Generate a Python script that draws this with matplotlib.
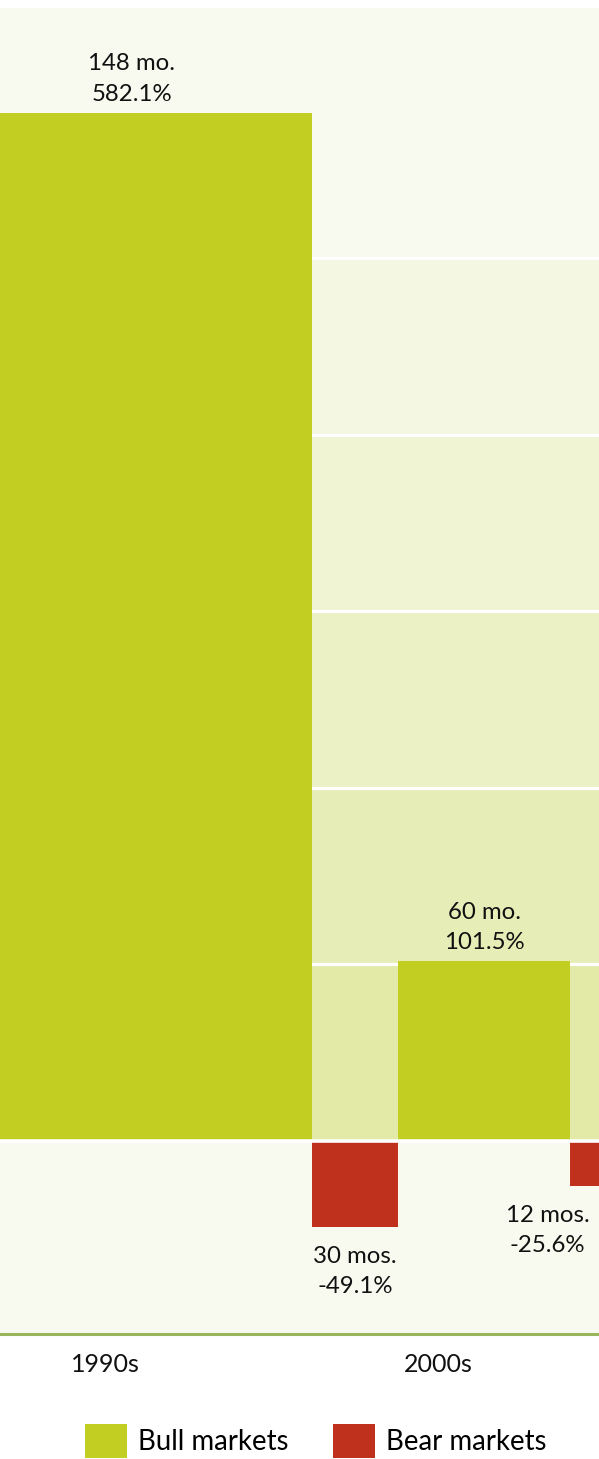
import numpy as np
import matplotlib
matplotlib.use("Agg")
import matplotlib.pyplot as plt
from matplotlib.patches import Patch
from matplotlib.transforms import blended_transform_factory

plt.rcParams["font.family"] = ["Lato", "DejaVu Sans"]

# Market cycles, in order: duration in months and total return in percent
months = [148, 30, 60, 12]
returns = [582.1, -49.1, 101.5, -25.6]
duration_labels = ["148 mo.", "30 mos.", "60 mo.", "12 mos."]
return_labels = ["582.1%", "-49.1%", "101.5%", "-25.6%"]
decades = ["1990s", "2000s"]
decade_pos = [75.8, 192.0]
legend_names = ["Bull markets", "Bear markets"]

BULL = "#C2CE22"
BEAR = "#BF311D"
band_colors = ["#E3EAA8", "#E7EDB7", "#ECF0C5", "#F0F4D3", "#F4F7E1", "#F9FAEF"]
BELOW = "#F9FAEF"

# horizontal nudges of the value labels (months)
label_dx = [11.2, 0.0, 0.0, -13.8]

Y_LO, Y_HI = -109.6, 641.7

fig = plt.figure(figsize=(5.99, 14.59), dpi=100)
ax = fig.add_axes([0, (1459 - 1334) / 1459, 1, (1334 - 8) / 1459])
ax.set_xlim(39.2, 248.1)
ax.set_ylim(Y_LO, Y_HI)
ax.set_facecolor("white")

# shaded bands every 100 %
edges = [0, 100, 200, 300, 400, 500, Y_HI]
for lo, hi, c in zip(edges[:-1], edges[1:], band_colors):
    ax.axhspan(lo, hi, color=c, lw=0, zorder=0)
ax.axhspan(Y_LO, 0, color=BELOW, lw=0, zorder=0)
for g in edges[1:-1]:
    ax.axhline(g, color="white", lw=2.3, zorder=1)

starts = np.concatenate([[0], np.cumsum(months)[:-1]])
colors = [BULL if r > 0 else BEAR for r in returns]
ax.bar(starts, returns, width=months, align="edge", color=colors, lw=0, zorder=2)
ax.axhline(0, color="white", lw=2.6, zorder=3)

for s, m, r, d, v, dx in zip(starts, months, returns, duration_labels, return_labels, label_dx):
    off = 24.5 if r > 0 else -32
    ax.annotate(f"{d}\n{v}", xy=(s + m / 2 + dx, r), xytext=(0, off),
                textcoords="offset points", ha="center", va="center",
                fontsize=17.3, color="#111111", linespacing=1.55, zorder=4)

for sp in ["top", "left", "right"]:
    ax.spines[sp].set_visible(False)
ax.spines["bottom"].set_color("#98B65A")
ax.spines["bottom"].set_linewidth(2.2)
ax.set_yticks([])
ax.set_xticks([])

trans = blended_transform_factory(ax.transData, ax.transAxes)
for name, x in zip(decades, decade_pos):
    ax.text(x, -31 / 1326, name, transform=trans, ha="center", va="center",
            fontsize=18, color="#111111", clip_on=False)

handles = [Patch(facecolor=BULL, lw=0), Patch(facecolor=BEAR, lw=0)]
fig.legend(handles, legend_names, loc="center", bbox_to_anchor=(0.527, (1459 - 1441) / 1459),
           ncol=2, frameon=False, fontsize=19.9, handlelength=1.52, handleheight=1.52,
           handletextpad=0.4, columnspacing=1.63, borderpad=0, borderaxespad=0)

fig.savefig("out.png", dpi=100, facecolor="white")
